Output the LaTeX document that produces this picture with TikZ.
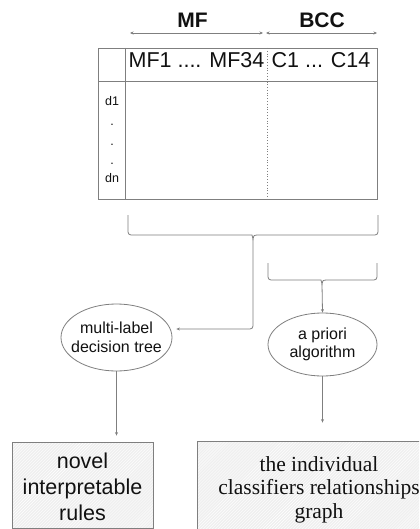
\documentclass[tikz,border=0pt]{standalone}
\usepackage{fontspec}
\setmainfont{Liberation Sans}
\newfontfamily\serifface{Liberation Serif}
\usetikzlibrary{shapes.geometric,arrows.meta,patterns}
\definecolor{linegray}{HTML}{7F7F7F}
\definecolor{boxfill}{HTML}{EFEFEF}
\definecolor{inkblack}{HTML}{111111}

\begin{document}
\begin{tikzpicture}[x=1bp,y=-1bp,
  rule/.style={draw=linegray, line width=0.8bp},
  tipped/.style={rule, -{Stealth[length=3.5bp,width=3bp]}},
  twotipped/.style={rule, {Stealth[length=3.5bp,width=3bp]}-{Stealth[length=3.5bp,width=3bp]}},
  headtext/.style={inner sep=0pt, anchor=base, text=inkblack, font=\fontsize{21.5bp}{26bp}\selectfont},
  grouptext/.style={inner sep=0pt, anchor=base, text=inkblack, font=\bfseries\fontsize{21bp}{25bp}\selectfont},
  rowtext/.style={inner sep=0pt, anchor=base, text=inkblack, font=\fontsize{12.5bp}{15bp}\selectfont},
  oval/.style={ellipse, rule, inner sep=0pt},
  ovaltext/.style={inner sep=0pt, align=center, text=inkblack, font=\fontsize{16bp}{18.5bp}\selectfont},
  resultbox/.style={rectangle, rule, inner sep=0pt, preaction={fill=boxfill},
    pattern=north east lines, pattern color=white},
  sanstext/.style={inner sep=0pt, align=center, text=inkblack, font=\fontsize{21.5bp}{26bp}\selectfont},
  seriftext/.style={inner sep=0pt, align=center, text=inkblack, font=\serifface\fontsize{21.5bp}{23.5bp}\selectfont},
]
\clip (0,0) rectangle (419,529);
\fill[white] (0,0) rectangle (419,529);

% group labels with their spans
\node[grouptext] (mflabel) at (192.5,28) {MF};
\node[grouptext] (bcclabel) at (322,28) {BCC};
\coordinate (mfstart) at (130,33);
\coordinate (mfend) at (263,33);
\coordinate (bccstart) at (266,33);
\coordinate (bccend) at (377,33);
\draw[twotipped] (mfstart) -- (mfend);
\draw[twotipped] (bccstart) -- (bccend);

% data table
\node[rectangle, rule, inner sep=0pt, minimum width=279bp, minimum height=151bp] (tbl) at (237.5,123.5) {};
\coordinate (headleft) at (98,81);
\coordinate (headright) at (377,81);
\coordinate (coltop) at (125,48);
\coordinate (colbottom) at (125,199);
\coordinate (splittop) at (267,48);
\coordinate (splitbottom) at (267,199);
\draw[rule] (headleft) -- (headright);
\draw[rule] (coltop) -- (colbottom);
\draw[draw=linegray, line width=0.8bp, dotted] (splittop) -- (splitbottom);

\node[headtext] (mfcols) at (196.5,68) {MF1 .... MF34};
\node[headtext] (bcccols) at (321,68) {C1 ... C14};

\node[rowtext] (rowfirst) at (112,106) {d1};
\node[rowtext] (dotone) at (112,126) {.};
\node[rowtext] (dottwo) at (112,146) {.};
\node[rowtext] (dotthree) at (112,165) {.};
\node[rowtext] (rowlast) at (112,183) {dn};

% bracket under the whole table
\draw[rule] (128,215) [rounded corners=3bp] -- (128,235) -- (249,235) [sharp corners]
  .. controls (252,235) .. (253,239) .. controls (254,235) .. (257,235)
  [rounded corners=3bp] -- (378,235) -- (378,215);
\coordinate (alltip) at (253,239);

% bracket under the classifier columns
\draw[rule] (268,263) [rounded corners=3bp] -- (268,280) -- (318,280) [sharp corners]
  .. controls (321,280) .. (322,284) .. controls (323,280) .. (326,280)
  [rounded corners=3bp] -- (377,280) -- (377,263);
\coordinate (bcctip) at (322,284);

% methods
\node[oval, minimum width=111bp, minimum height=67bp] (mldt) at (116.5,337.5) {};
\node[ovaltext] (mldttext) at (mldt.center) {multi-label\\decision tree};
\node[oval, minimum width=109bp, minimum height=63bp] (apriori) at (322.5,344.5) {};
\node[ovaltext] (aprioritext) at (apriori.center) {a priori\\algorithm};

\draw[tipped, rounded corners=3bp, shorten >=4bp] (alltip) |- ([shift={(0,-8.5)}]mldt.east);
\draw[tipped] (bcctip) -- (apriori.north);

% results
\node[resultbox, minimum width=141bp, minimum height=86bp] (rulesbox) at (82.5,485) {};
\node[sanstext] (rulestext) at (82.5,487) {novel\\interpretable\\rules};
\node[resultbox, minimum width=244bp, minimum height=88bp] (graphbox) at (319,485) {};
\node[seriftext] (graphtext) at (319,489.5) {the individual\\classifiers relationships\\graph};

\draw[tipped, shorten >=6bp] (mldt.south) -- (mldt.south |- rulesbox.north);
\draw[tipped, shorten >=18bp] (apriori.south) -- (apriori.south |- graphbox.north);
\end{tikzpicture}
\end{document}
